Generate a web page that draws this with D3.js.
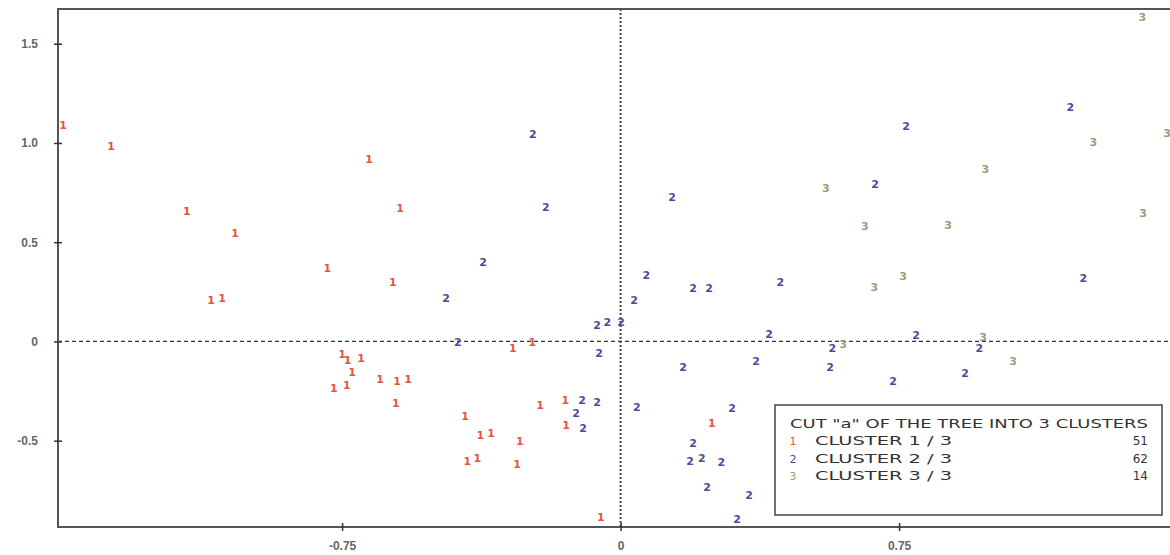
<!DOCTYPE HTML>
<html lang="en">

<head>
  <meta charset="utf-8">
  <title>Cut "a" of the tree into 3 clusters</title>
  <script src="https://d3js.org/d3.v7.min.js"></script>
  <style>
    body { margin: 0; background: #fff; }
    svg text { font-family: "DejaVu Sans", "Liberation Sans", sans-serif; }
  </style>
</head>

<body>
<div id="stage"></div>

<script>
  // factor coordinates, [x, y]
  var cluster1 = [
    [-1.501, 1.091], [-1.372, 0.985], [-1.168, 0.657], [-1.038, 0.547], [-1.103, 0.209],
    [-1.073, 0.219], [-0.790, 0.370], [-0.677, 0.919], [-0.594, 0.673], [-0.613, 0.300],
    [-0.750, -0.065], [-0.735, -0.095], [-0.699, -0.083], [-0.723, -0.154], [-0.772, -0.234],
    [-0.737, -0.219], [-0.648, -0.189], [-0.602, -0.199], [-0.572, -0.189], [-0.605, -0.310],
    [-0.419, -0.375], [-0.378, -0.471], [-0.349, -0.461], [-0.413, -0.602], [-0.386, -0.587],
    [-0.271, -0.501], [-0.279, -0.617], [-0.217, -0.320], [-0.149, -0.295], [-0.147, -0.421],
    [-0.290, -0.033], [-0.238, -0.003], [-0.053, -0.884], [0.246, -0.411]
  ];
  var cluster2 = [
    [-0.236, 1.045], [-0.201, 0.678], [-0.370, 0.401], [-0.470, 0.219], [-0.438, -0.003],
    [0.139, 0.728], [0.069, 0.335], [0.036, 0.209], [0.195, 0.270], [0.238, 0.270],
    [0.430, 0.300], [-0.063, 0.083], [-0.036, 0.098], [0.001, 0.098], [-0.058, -0.058],
    [-0.104, -0.295], [-0.120, -0.360], [-0.063, -0.305], [-0.101, -0.436], [0.044, -0.330],
    [0.168, -0.128], [0.365, -0.098], [0.400, 0.038], [0.570, -0.033], [0.564, -0.128],
    [0.796, 0.033], [0.734, -0.199], [0.928, -0.159], [0.966, -0.033], [0.769, 1.086],
    [1.211, 1.181], [0.685, 0.793], [1.246, 0.320], [0.300, -0.335], [0.195, -0.511],
    [0.187, -0.602], [0.219, -0.587], [0.271, -0.607], [0.233, -0.733], [0.346, -0.773],
    [0.314, -0.894]
  ];
  var cluster3 = [
    [1.405, 1.635], [1.273, 1.005], [1.472, 1.050], [0.982, 0.869], [0.553, 0.773],
    [0.658, 0.582], [0.882, 0.587], [1.407, 0.647], [0.761, 0.330], [0.683, 0.275],
    [0.599, -0.013], [0.976, 0.023], [1.057, -0.098]
  ];
  var clusterNames = ["CLUSTER 1 / 3", "CLUSTER 2 / 3", "CLUSTER 3 / 3"];
  var clusterCounts = [51, 62, 14];
  var xTicks = [-0.75, 0, 0.75];
  var xTickLabels = ["-0.75", "0", "0.75"];
  var yTicks = [-0.5, 0, 0.5, 1.0, 1.5];
  var yTickLabels = ["-0.5", "0", "0.5", "1.0", "1.5"];

  var colors = ["#e4553f", "#4b4a98", "#9c9c7c"];

  var W = 1170, H = 555;
  var plotLeft = 58, plotTop = 9, plotRight = 1175, plotBottom = 527;

  var svg = d3.select("#stage").append("svg")
    .attr("width", W).attr("height", H);

  var x = d3.scaleLinear().domain([-1.515, 1.493]).range([plotLeft, plotRight]);
  var y = d3.scaleLinear().domain([-0.935, 1.675]).range([plotBottom, plotTop]);

  // dashed reference lines
  svg.append("line")
    .attr("x1", plotLeft).attr("x2", plotRight)
    .attr("y1", y(0)).attr("y2", y(0))
    .attr("stroke", "#333").attr("stroke-width", 1.3)
    .attr("stroke-dasharray", "4,3");
  svg.append("line")
    .attr("x1", x(0)).attr("x2", x(0))
    .attr("y1", plotTop).attr("y2", plotBottom)
    .attr("stroke", "#444").attr("stroke-width", 2)
    .attr("stroke-dasharray", "2,2");

  // points drawn as their cluster number
  [cluster1, cluster2, cluster3].forEach(function (pts, i) {
    svg.append("g").selectAll("text")
      .data(pts)
      .enter().append("text")
      .attr("x", function (d) { return x(d[0]); })
      .attr("y", function (d) { return y(d[1]); })
      .attr("dy", "0.35em")
      .attr("text-anchor", "middle")
      .attr("font-size", 11)
      .attr("font-weight", "bold")
      .attr("fill", colors[i])
      .text(i + 1);
  });

  // frame
  svg.append("rect")
    .attr("x", plotLeft).attr("y", plotTop)
    .attr("width", plotRight - plotLeft).attr("height", plotBottom - plotTop)
    .attr("fill", "none").attr("stroke", "#555").attr("stroke-width", 2);

  // axes, ticks cross the frame line
  var yAxis = d3.axisLeft(y).tickValues(yTicks)
    .tickFormat(function (d, i) { return yTickLabels[i]; })
    .tickSize(4).tickPadding(16);
  var gy = svg.append("g").attr("transform", "translate(" + plotLeft + ",0)").call(yAxis);
  var xAxis = d3.axisBottom(x).tickValues(xTicks)
    .tickFormat(function (d, i) { return xTickLabels[i]; })
    .tickSize(4).tickPadding(10);
  var gx = svg.append("g").attr("transform", "translate(0," + plotBottom + ")").call(xAxis);

  [gy, gx].forEach(function (g) {
    g.select(".domain").remove();
    g.selectAll("line").attr("stroke", "#333").attr("stroke-width", 1.5);
    g.selectAll("text").attr("fill", "#666").attr("font-size", 12)
      .attr("font-weight", "bold").style("font-family", "'Liberation Sans', Arial, sans-serif");
  });
  gy.selectAll("line").attr("x1", 4).attr("x2", -4);
  gx.selectAll("line").attr("y1", -4).attr("y2", 4);

  // legend
  var lg = svg.append("g");
  lg.append("rect")
    .attr("x", 775).attr("y", 405).attr("width", 387).attr("height", 110)
    .attr("fill", "#fff").attr("stroke", "#444").attr("stroke-width", 1.5);
  lg.append("text")
    .attr("x", 790).attr("y", 428)
    .attr("font-size", 12).attr("fill", "#333")
    .attr("textLength", 358).attr("lengthAdjust", "spacingAndGlyphs")
    .text('CUT "a" OF THE TREE INTO  3 CLUSTERS');
  clusterNames.forEach(function (name, i) {
    var yy = 445 + i * 17.5;
    lg.append("text").attr("x", 793).attr("y", yy)
      .attr("text-anchor", "middle").attr("font-size", 11).attr("fill", colors[i])
      .text(i + 1);
    lg.append("text").attr("x", 815).attr("y", yy)
      .attr("font-size", 12).attr("fill", "#333")
      .attr("textLength", 137).attr("lengthAdjust", "spacingAndGlyphs")
      .text(name);
    lg.append("text").attr("x", 1148).attr("y", yy)
      .attr("text-anchor", "end").attr("font-size", 12).attr("fill", "#333")
      .text(clusterCounts[i]);
  });
</script>
</body>
</html>
